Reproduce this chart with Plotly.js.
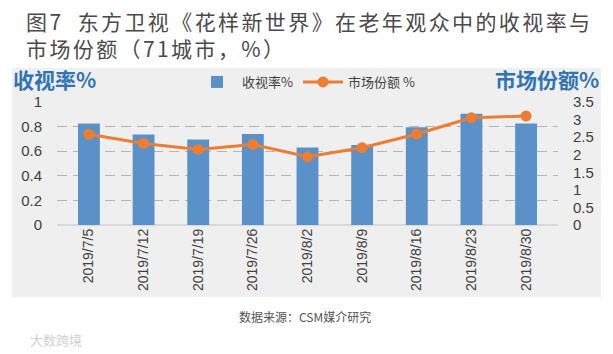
<!DOCTYPE html>
<html>
<head>
<meta charset="utf-8">
<script src="https://cdn.plot.ly/plotly-3.0.1.min.js"></script>
<style>
  html, body { margin: 0; padding: 0; background: #ffffff; }
  #chart { width: 613px; height: 354px; }
  #chart g.annotation[data-index="0"] text { letter-spacing: 2.4px; }
</style>
</head>
<body>
<div id="chart"></div>
<script>
// ---- data ----
const categories = ["2019/7/5", "2019/7/12", "2019/7/19", "2019/7/26", "2019/8/2", "2019/8/9", "2019/8/16", "2019/8/23", "2019/8/30"];
const ratingValues = [0.825, 0.735, 0.695, 0.74, 0.63, 0.65, 0.795, 0.905, 0.825];
const shareValues = [2.58, 2.32, 2.15, 2.29, 1.94, 2.20, 2.59, 3.05, 3.10];
const ratingName = "收视率%";
const shareName = "市场份额 %";
const titleLines = ["图7  东方卫视《花样新世界》在老年观众中的收视率与", "市场份额（71城市，%）"];
const leftAxisLabel = "收视率%";
const rightAxisLabel = "市场份额%";
const sourceText = "数据来源：CSM媒介研究";
const watermarkText = "大数跨境";

// ---- layout helpers (pixel -> paper) ----
const W = 613, H = 354;
const M = { l: 57, r: 55, t: 102, b: 129 };
const PW = W - M.l - M.r, PH = H - M.t - M.b;
const px = v => (v - M.l) / PW;
const py = v => (H - M.b - v) / PH;

const cjk = "'Noto Sans CJK SC', 'Noto Sans', sans-serif";
const latin = "'Liberation Sans', Arial, 'Noto Sans CJK SC', sans-serif";

const traces = [
  {
    type: "bar",
    name: ratingName,
    x: categories,
    y: ratingValues,
    width: 0.4,
    marker: { color: "#5a91c8" },
    yaxis: "y"
  },
  {
    type: "scatter",
    mode: "lines+markers",
    name: shareName,
    x: categories,
    y: shareValues,
    yaxis: "y2",
    line: { color: "#ed7d31", width: 3 },
    marker: { color: "#ed7d31", size: 11 }
  }
];

const layout = {
  width: W, height: H,
  margin: M,
  paper_bgcolor: "#ffffff",
  plot_bgcolor: "rgba(0,0,0,0)",
  font: { family: latin, color: "#404040" },
  showlegend: true,
  legend: {
    orientation: "h",
    x: px(192), y: py(82), xanchor: "left", yanchor: "middle",
    bgcolor: "rgba(0,0,0,0)",
    font: { family: cjk, size: 13, color: "#404040" },
    itemwidth: 40,
    traceorder: "normal"
  },
  bargap: 0.6,
  xaxis: {
    type: "category",
    tickangle: -90,
    tickfont: { family: latin, size: 14, color: "#404040" },
    showgrid: false, zeroline: false, showline: false, ticks: ""
  },
  yaxis: {
    range: [0, 1],
    dtick: 0.2,
    tickfont: { family: latin, size: 15, color: "#404040" },
    showgrid: true,
    gridcolor: "#b4b4b4",
    gridwidth: 1,
    griddash: "10px,6px",
    zeroline: true,
    zerolinecolor: "#d9d9d9",
    zerolinewidth: 2,
    ticks: "",
    ticklabelstandoff: 14,
    fixedrange: true
  },
  yaxis2: {
    overlaying: "y",
    side: "right",
    range: [0, 3.5],
    dtick: 0.5,
    tickfont: { family: latin, size: 15, color: "#404040" },
    showgrid: false,
    zeroline: false,
    ticks: "",
    ticklabelstandoff: 14,
    fixedrange: true
  },
  shapes: [
    {
      type: "rect", xref: "paper", yref: "paper", layer: "below",
      x0: px(12), x1: px(601), y0: py(297), y1: py(68),
      fillcolor: "#efefef", line: { width: 0 }
    }
  ],
  annotations: [
    { xref: "paper", yref: "paper", x: px(24), y: py(34), xanchor: "left", yanchor: "middle",
      text: titleLines.join("<br>"), align: "left", showarrow: false,
      font: { family: cjk, size: 21, color: "#4a4a4a" } },
    { xref: "paper", yref: "paper", x: px(11), y: py(79), xanchor: "left", yanchor: "middle",
      text: "<b>" + leftAxisLabel + "</b>", showarrow: false, font: { family: cjk, size: 21, color: "#2f74b5" } },
    { xref: "paper", yref: "paper", x: px(601), y: py(79), xanchor: "right", yanchor: "middle",
      text: "<b>" + rightAxisLabel + "</b>", showarrow: false, font: { family: cjk, size: 21, color: "#2f74b5" } },
    { xref: "paper", yref: "paper", x: px(305), y: py(316), xanchor: "center", yanchor: "middle",
      text: sourceText, showarrow: false, font: { family: cjk, size: 12, color: "#555555" } },
    { xref: "paper", yref: "paper", x: px(28), y: py(339), xanchor: "left", yanchor: "middle",
      text: watermarkText, showarrow: false, font: { family: cjk, size: 13, color: "#d0d0d0" } }
  ]
};

Plotly.newPlot("chart", traces, layout, { displayModeBar: false, staticPlot: true });
</script>
</body>
</html>
